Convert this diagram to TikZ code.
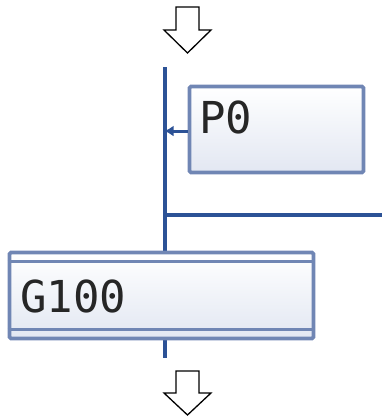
\documentclass[tikz,border=0pt]{standalone}
\usepackage{fontspec}
\newfontfamily\monofnt{DejaVu Sans Mono}
\usetikzlibrary{arrows.meta}
\definecolor{rail}{RGB}{44,82,150}
\definecolor{boxedge}{RGB}{112,134,180}
\definecolor{boxbot}{RGB}{226,231,242}
\tikzset{
  railline/.style={draw=rail, line width=4pt},
  stepbox/.style={draw=boxedge, line width=3.8pt, rounded corners=1.5pt, top color=white, bottom color=boxbot, inner sep=0pt},
  lbl/.style={font=\monofnt\fontsize{44}{44}\selectfont, anchor=base west, inner sep=0pt, text=black!85},
  flowarrow/.style={draw=black, line width=1.3pt, fill=white, line join=miter}
}
\begin{document}
\begin{tikzpicture}[x=1pt,y=-1pt]
\useasboundingbox (0,0) rectangle (382,416);
% coordinates
\coordinate (rtop) at (164.5,67);
\coordinate (rbot) at (164.5,358);
\coordinate (hl) at (164.5,215);
\coordinate (hr) at (383,215);
\coordinate (tap) at (164.5,131);
% rails
\draw[railline] (rtop) -- (rbot);
\draw[draw=rail, line width=3.5pt] (hl) -- (hr);
% P0 box
\node[stepbox, minimum width=174pt, minimum height=86pt] (p0) at (276.5,129.5) {};
\node[lbl] (p0t) at (199,133) {P0};
\draw[draw=rail, line width=3pt, -{Latex[length=9pt,width=11pt]}] (p0.west |- tap) -- (tap);
% G100 box
\node[stepbox, minimum width=304pt, minimum height=86pt] (g100) at (161.5,295.5) {};
\draw[draw=boxedge, line width=3.5pt] ([yshift=-11pt]g100.north west) -- ([yshift=-11pt]g100.north east);
\draw[draw=boxedge, line width=3.5pt] ([yshift=11pt]g100.south west) -- ([yshift=11pt]g100.south east);
\node[lbl] (g100t) at (20,312) {G100};
% flow arrows
\draw[flowarrow] (176,7) -- (199,7) -- (199,30) -- (211,30) -- (187.5,53) -- (164,30) -- (176,30) -- cycle;
\draw[flowarrow] (176,371) -- (199,371) -- (199,393) -- (211,393) -- (187.5,415) -- (164,393) -- (176,393) -- cycle;
\end{tikzpicture}
\end{document}
